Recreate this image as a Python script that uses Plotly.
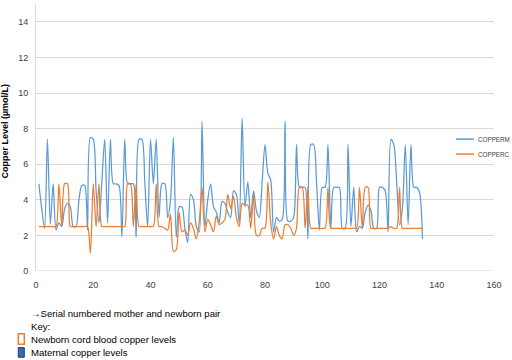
import plotly.graph_objects as go

pair_no = list(range(1, 136))

copper_m = [
    4.9, 3.5, 2.4, 7.4, 2.65, 4.9, 2.3, 2.7, 2.5, 3.5,
    3.8, 3.6, 2.5, 2.5, 4.0, 4.8, 4.8, 2.3, 7.5, 7.4,
    4.5, 2.7, 5.0, 7.4, 2.7, 7.4, 4.9, 4.9, 4.8, 1.9,
    7.4, 4.9, 4.9, 4.9, 1.9, 7.4, 7.4, 5.0, 2.5, 7.4,
    4.9, 7.4, 3.0, 4.9, 4.9, 3.0, 4.0, 7.5, 1.9, 3.6,
    3.6, 2.4, 1.6, 4.3, 4.0, 2.5, 2.2, 8.4, 2.5, 4.0,
    4.9, 3.6, 3.3, 2.7, 3.9, 3.8, 3.3, 3.0, 4.5, 4.3,
    2.7, 8.6, 3.6, 5.0, 3.0, 4.5, 3.4, 3.0, 5.0, 7.1,
    5.5, 5.1, 2.2, 3.0, 2.8, 2.9, 8.4, 2.8, 2.8, 3.0,
    7.1, 4.7, 4.7, 4.7, 1.8, 7.1, 7.1, 5.0, 2.3, 4.7,
    4.7, 7.1, 2.4, 4.7, 4.7, 4.7, 2.4, 2.4, 7.1, 2.5,
    4.7, 2.2, 2.5, 2.4, 3.3, 3.7, 3.4, 2.4, 2.4, 4.7,
    4.7, 4.5, 2.2, 7.4, 7.1, 5.0, 2.6, 3.5, 7.1, 2.6,
    7.1, 4.7, 4.7, 4.4, 1.8,
]

copper_c = [
    2.5, 2.5, 2.5, 2.5, 2.5, 2.5, 2.5, 4.9, 2.5, 4.9,
    4.9, 2.5, 2.5, 2.5, 2.5, 2.5, 2.5, 2.5, 1.0, 4.9,
    2.5, 4.9, 2.5, 2.5, 2.5, 2.5, 2.5, 2.5, 2.5, 2.5,
    2.5, 4.9, 4.9, 2.5, 4.9, 2.5, 2.5, 2.5, 2.5, 2.5,
    2.5, 4.9, 2.5, 2.5, 2.4, 2.3, 3.2, 1.1, 1.2, 3.3,
    2.2, 2.3, 2.0, 2.7, 2.4, 1.8, 2.7, 4.7, 2.2, 2.9,
    2.6, 2.2, 3.1, 2.6, 2.7, 2.9, 4.3, 3.5, 4.2, 3.0,
    2.5, 3.8, 3.7, 3.7, 2.4, 4.3, 2.0, 2.0, 2.4, 2.4,
    5.0, 2.7, 1.8, 2.5, 2.0, 1.8, 2.6, 2.6, 2.4, 2.0,
    2.4, 4.7, 4.7, 2.4, 4.7, 2.4, 2.4, 2.4, 2.4, 2.4,
    2.4, 4.7, 2.4, 2.4, 2.4, 2.4, 2.4, 2.4, 2.4, 2.4,
    2.4, 2.4, 4.7, 2.4, 4.7, 4.7, 2.4, 2.4, 2.4, 2.4,
    2.4, 2.4, 2.4, 2.5, 2.4, 2.4, 4.7, 2.4, 2.4, 2.4,
    2.4, 2.4, 2.4, 2.4, 2.4,
]

series_names = ["COPPERM", "COPPERC"]
x_ticks = [0, 20, 40, 60, 80, 100, 120, 140, 160]
y_ticks = [0, 2, 4, 6, 8, 10, 12, 14]

BLUE = "#5B9BD5"
ORANGE = "#ED7D31"
FONT = "Liberation Sans, DejaVu Sans, sans-serif"

fig = go.Figure()
fig.add_trace(go.Scatter(x=pair_no, y=copper_m, mode="lines", name=series_names[0],
                         line=dict(color=BLUE, width=1.25, shape="spline", smoothing=0.8)))
fig.add_trace(go.Scatter(x=pair_no, y=copper_c, mode="lines", name=series_names[1],
                         line=dict(color=ORANGE, width=1.25, shape="spline", smoothing=0.8)))

fig.update_layout(
    width=512, height=360,
    margin=dict(l=36, r=18, t=4, b=89, pad=0, autoexpand=False),
    paper_bgcolor="white", plot_bgcolor="white",
    font=dict(family=FONT, size=9, color="#404040"),
    showlegend=False,
    xaxis=dict(range=[0, 160], tickvals=x_ticks, showgrid=False, zeroline=False,
               showline=False, ticks="", automargin=False, ticklabelstandoff=7,
               tickfont=dict(size=9, color="#404040")),
    yaxis=dict(range=[0, 15], tickvals=y_ticks, showgrid=True, gridcolor="#D9D9D9",
               gridwidth=1, zeroline=False, showline=True, linecolor="#D9D9D9",
               ticks="", automargin=False, ticklabelstandoff=5,
               tickfont=dict(size=9, color="#404040")),
    hovermode=False,
)

# bottom axis line at 0
fig.add_shape(type="line", xref="paper", yref="y", x0=0, x1=1, y0=0, y1=0,
              line=dict(color="#D9D9D9", width=1))

# y-axis title
fig.add_annotation(text="<b>Copper Level (µmol/L)</b>", xref="paper", yref="paper",
                   x=-0.0666, y=0.524, textangle=-90, showarrow=False,
                   xanchor="center", yanchor="middle",
                   font=dict(family=FONT, size=9, color="#000000"))

# legend (right side)
for name, col, yy in [(series_names[0], BLUE, 0.494), (series_names[1], ORANGE, 0.438)]:
    fig.add_shape(type="line", xref="paper", yref="paper", x0=0.917, x1=0.956,
                  y0=yy, y1=yy, line=dict(color=col, width=1.5))
    fig.add_annotation(text=name, xref="paper", yref="paper", x=0.960, y=yy,
                       xanchor="left", yanchor="middle", showarrow=False,
                       font=dict(family=FONT, size=6.3, color="#404040"))

notes = [
    ("→Serial numbered mother and newborn pair", -0.0146, -0.158),
    ("Key:", -0.0146, -0.207),
    ("Newborn cord blood copper levels", -0.0146, -0.256),
    ("Maternal copper levels", -0.0146, -0.304),
]
for txt, xx, yy in notes:
    fig.add_annotation(text=txt, xref="paper", yref="paper", x=xx, y=yy,
                       xanchor="left", yanchor="middle", showarrow=False,
                       font=dict(family=FONT, size=9.6, color="#000000"))

fig.add_shape(type="rect", xref="paper", yref="paper", x0=-0.0387, x1=-0.0256,
              y0=-0.274, y1=-0.235, line=dict(color=ORANGE, width=1.5), fillcolor="white")
fig.add_shape(type="rect", xref="paper", yref="paper", x0=-0.0387, x1=-0.0256,
              y0=-0.323, y1=-0.287, line=dict(color="#1F3864", width=1), fillcolor="#3A6BAE")

fig.write_html("out.html", config={"displayModeBar": False},
               post_script="document.body.style.margin='0';document.body.style.overflow='hidden';")
